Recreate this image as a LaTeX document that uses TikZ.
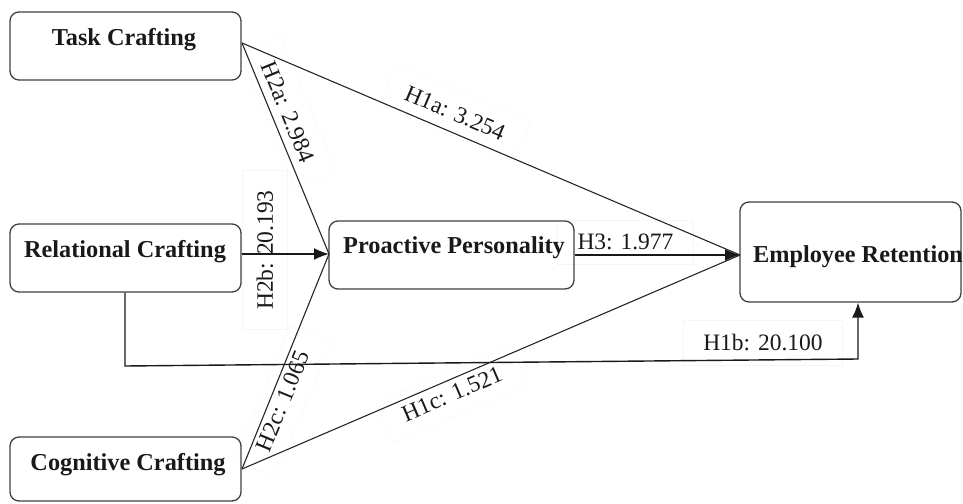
\documentclass[tikz,border=0pt]{standalone}
\usepackage{fontspec}
\setmainfont{Liberation Serif}
\usetikzlibrary{arrows.meta}
\begin{document}
\begin{tikzpicture}[x=1pt,y=-1pt,
  box/.style={draw=black!75, line width=1.3pt, rounded corners=9pt, inner sep=0pt},
  boxtxt/.style={font=\bfseries\fontsize{24.3}{28}\selectfont, inner sep=0pt, text=black!90},
  lbl/.style={font=\fontsize{23.5}{28}\selectfont, inner xsep=20pt, inner ysep=14pt, text=black!90,
              draw=black!6, densely dotted, line width=0.6pt},
  conn/.style={line width=1.1pt, draw=black!85},
  arr/.style={line width=1.6pt, draw=black!90, -{Latex[length=15pt,width=12pt]}},
]
\useasboundingbox (0,0) rectangle (963,503);

% label frames / texts (drawn first so lines go over them)
\node[lbl, rotate=-23.06] (l1a) at (455,113) {H1a: 3.254};
\node[lbl, rotate=-67.6] (l2a) at (288,112) {H2a: 2.984};
\node[lbl, rotate=90] (l2b) at (265,250) {H2b: 20.193};
\node[lbl, rotate=67.6] (l2c) at (283,401) {H2c: 1.065};
\node[lbl, rotate=23.3] (l1c) at (452,394) {H1c: 1.521};
\node[lbl] (l3) at (625.5,242) {H3: 1.977};
\node[lbl] (l1b) at (763,343) {H1b: 20.100};

% boxes
\node[box, minimum width=231pt, minimum height=68pt] (tc) at (125.5,46) {};
\node[box, minimum width=231pt, minimum height=68pt] (rc) at (125.5,258) {};
\node[box, minimum width=231pt, minimum height=64pt] (cc) at (125.5,469) {};
\node[box, minimum width=245pt, minimum height=68pt] (pp) at (451.5,255) {};
\node[box, minimum width=221pt, minimum height=100pt] (er) at (850.5,252) {};

\node[boxtxt] (tct) at (124,40) {Task Crafting};
\node[boxtxt] (rct) at (125,252) {Relational Crafting};
\node[boxtxt] (cct) at (128,465) {Cognitive Crafting};
\node[boxtxt] (ppt) at (454,248) {Proactive Personality};
\node[boxtxt] (ert) at (858,257) {Employee Retention};

% connection points
\coordinate (tco) at (242,43);
\coordinate (cco) at (242,469);
\coordinate (ppi) at (329,254);
\coordinate (eri) at (740,255);
\coordinate (b1) at (125,366);
\coordinate (b2) at (858,359);

\draw[conn] (tco) -- (ppi);
\draw[conn] (tco) -- (eri);
\draw[conn] (cco) -- (ppi);
\draw[conn] (cco) -- (eri);
\draw[arr] (rc.east |- ppi) -- (ppi);
\draw[arr] (pp.east |- eri) -- (eri);
\draw[arr, line width=1.4pt] (rc.south -| b1) -- (b1) -- (b2) -- (b2 |- er.south);
\end{tikzpicture}
\end{document}
